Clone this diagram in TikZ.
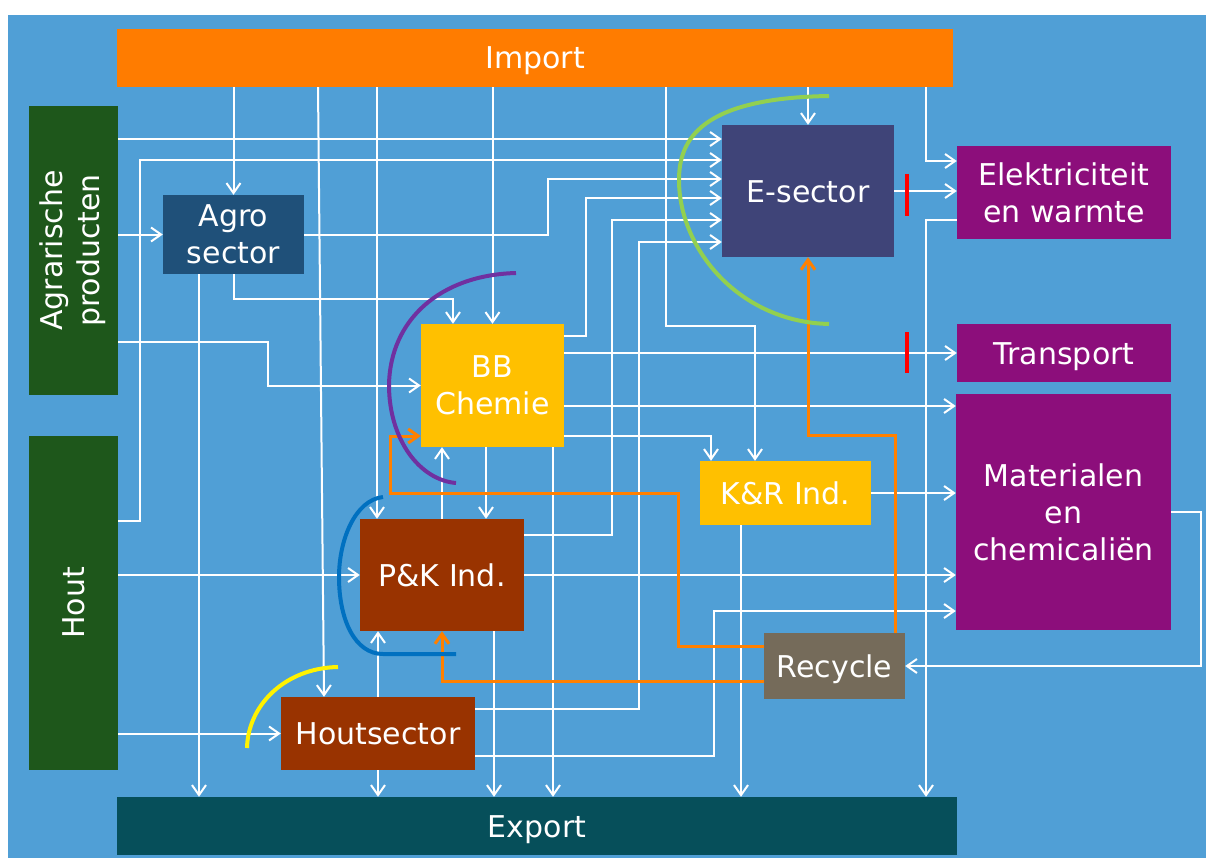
\documentclass[tikz,border=0pt]{standalone}
\usepackage{fontspec}
\setmainfont{DejaVu Sans}
\usetikzlibrary{arrows.meta}
\definecolor{bgblue}{HTML}{509FD6}
\definecolor{impcol}{HTML}{FF7C00}
\definecolor{expcol}{HTML}{064F5A}
\definecolor{grcol}{HTML}{1E571B}
\definecolor{agrocol}{HTML}{1F5079}
\definecolor{ecol}{HTML}{3F4478}
\definecolor{purcol}{HTML}{8C0E7B}
\definecolor{yelcol}{HTML}{FFC000}
\definecolor{brcol}{HTML}{993300}
\definecolor{reccol}{HTML}{756B5A}
\definecolor{orline}{HTML}{FF8000}
\definecolor{ringgreen}{HTML}{92D050}
\definecolor{ringpurple}{HTML}{7030A0}
\definecolor{ringblue}{HTML}{0070C0}
\begin{document}
\begin{tikzpicture}[x=1pt,y=-1pt,
  box/.style={inner sep=0pt,text=white,align=center,font=\fontsize{30}{37}\selectfont},
  oneline/.style={text height=28pt,text depth=6pt},
  wl/.style={white,line width=2pt,-{Straight Barb[length=10pt,width=14pt]}},
  ol/.style={orline,line width=3pt,-{Straight Barb[length=10pt,width=14pt]}},
  ring/.style={line width=4pt}]
\useasboundingbox (0,0) rectangle (1206,861);
\fill[white] (0,0) rectangle (1206,861);
\fill[bgblue] (8,15) rectangle (1206,858);

\node[box,oneline,fill=impcol,minimum width=836pt,minimum height=58pt] (imp) at (535,58) {Import};
\node[box,oneline,fill=expcol,minimum width=840pt,minimum height=58pt] (exp) at (537,826) {Export};
\node[box,fill=grcol,minimum width=89pt,minimum height=289pt] (agr) at (73.5,250.5) {\rotatebox{90}{\begin{tabular}{@{}c@{}}Agrarische\\producten\end{tabular}}};
\node[box,fill=grcol,minimum width=89pt,minimum height=334pt] (hout) at (73.5,603) {\rotatebox{90}{Hout}};
\node[box,fill=agrocol,minimum width=141pt,minimum height=79pt] (agro) at (233.5,234.5) {Agro\\sector};
\node[box,oneline,fill=ecol,minimum width=172pt,minimum height=132pt] (esec) at (808,191) {E-sector};
\node[box,fill=purcol,minimum width=214pt,minimum height=93pt] (elek) at (1064,192.5) {Elektriciteit\\en warmte};
\node[box,oneline,fill=purcol,minimum width=214pt,minimum height=58pt] (trans) at (1064,353) {Transport};
\node[box,fill=purcol,minimum width=215pt,minimum height=236pt] (mat) at (1063.5,512) {Materialen\\en\\chemicaliën};
\node[box,fill=yelcol,minimum width=143pt,minimum height=123pt] (bb) at (492.5,385.5) {BB\\Chemie};
\node[box,oneline,fill=yelcol,minimum width=171pt,minimum height=64pt] (kr) at (785.5,493) {K\&R Ind.};
\node[box,oneline,fill=brcol,minimum width=164pt,minimum height=112pt] (pk) at (442,575) {P\&K Ind.};
\node[box,oneline,fill=brcol,minimum width=194pt,minimum height=73pt] (hs) at (378,733.5) {Houtsector};
\node[box,oneline,fill=reccol,minimum width=141pt,minimum height=66pt] (rec) at (834.5,666) {Recycle};

\draw[wl] (imp.south -| agro) -- (agro.north);
\draw[wl] (318,0 |- imp.south) -- (324,0 |- hs.north);
\draw[wl] (377,0 |- imp.south) -- (377,0 |- pk.north);
\draw[wl] (imp.south -| bb) -- (bb.north);
\draw[wl] (666,0 |- imp.south) -- (666,326) -| (755,0 |- kr.north);
\draw[wl] (imp.south -| esec) -- (esec.north);
\draw[wl] (926,0 |- imp.south) |- (elek.west |- 0,161);
\draw[wl] (elek.west |- 0,220) -| (926,0 |- exp.north);
\draw[wl] (agr.east |- 0,139) -- (esec.west |- 0,139);
\draw[wl] (hout.east |- 0,521) -| (140,160) -- (esec.west |- 0,160);
\draw[wl] (agr.east |- agro.west) -- (agro.west);
\draw[wl] (agr.east |- 0,342) -| (268,0 |- bb.west) -- (bb.west);
\draw[wl] (agro.east) -| (548,179) -- (esec.west |- 0,179);
\draw[wl] (agro.south) |- (453,299) -- (453,0 |- bb.north);
\draw[wl] (199,0 |- agro.south) -- (199,0 |- exp.north);
\draw[wl] (bb.east |- 0,336) -| (586,198) -- (esec.west |- 0,198);
\draw[wl] (pk.east |- 0,535) -| (612,220) -- (esec.west |- 0,220);
\draw[wl] (hs.east |- 0,709) -| (639,242) -- (esec.west |- 0,242);
\draw[wl] (esec.east) -- (esec.east -| elek.west);
\draw[wl] (bb.east |- trans.west) -- (trans.west);
\draw[wl] (bb.east |- 0,406) -- (mat.west |- 0,406);
\draw[wl] (bb.east |- 0,436) -| (711,0 |- kr.north);
\draw[wl] (486,0 |- bb.south) -- (486,0 |- pk.north);
\draw[wl] (pk.north) -- (pk.north |- bb.south);
\draw[wl] (553,0 |- bb.south) -- (553,0 |- exp.north);
\draw[wl] (hout.east |- pk.west) -- (pk.west);
\draw[wl] (hout.east |- hs.west) -- (hs.west);
\draw[wl] (hs.north) -- (hs.north |- pk.south);
\draw[wl] (hs.south) -- (hs.south |- exp.north);
\draw[wl] (494,0 |- pk.south) -- (494,0 |- exp.north);
\draw[wl] (pk.east) -- (pk.east -| mat.west);
\draw[wl] (hs.east |- 0,756) -| (714,611) -- (mat.west |- 0,611);
\draw[wl] (kr.east) -- (kr.east -| mat.west);
\draw[wl] (741,0 |- kr.south) -- (741,0 |- exp.north);
\draw[wl] (mat.east) -- (1201,0 |- mat.east) |- (rec.east);

\draw[ol] (rec.west |- 0,646) -| (678,493) -| (390,436) -- (bb.west |- 0,436);
\draw[ol] (rec.west |- 0,681) -| (pk.south);
\draw[ol] (895,0 |- rec.north) |- (808,435) -- (esec.south);

\draw[ring,ringgreen] (829,96) .. controls (700,98) and (679,140) .. (679,180) .. controls (679,250) and (740,322) .. (829,324);
\draw[ring,ringpurple] (516,273) .. controls (440,275) and (390,320) .. (389,385) .. controls (389,440) and (420,480) .. (456,483);
\draw[ring,ringblue] (383,497) .. controls (355,500) and (339,540) .. (339,577) .. controls (339,620) and (355,654) .. (383,654) -- (456,654);
\draw[ring,yellow] (338,667) .. controls (285,668) and (248,705) .. (247,748);
\draw[ring,red] (907,174) -- (907,216);
\draw[ring,red] (907,332) -- (907,373);
\end{tikzpicture}
\end{document}
